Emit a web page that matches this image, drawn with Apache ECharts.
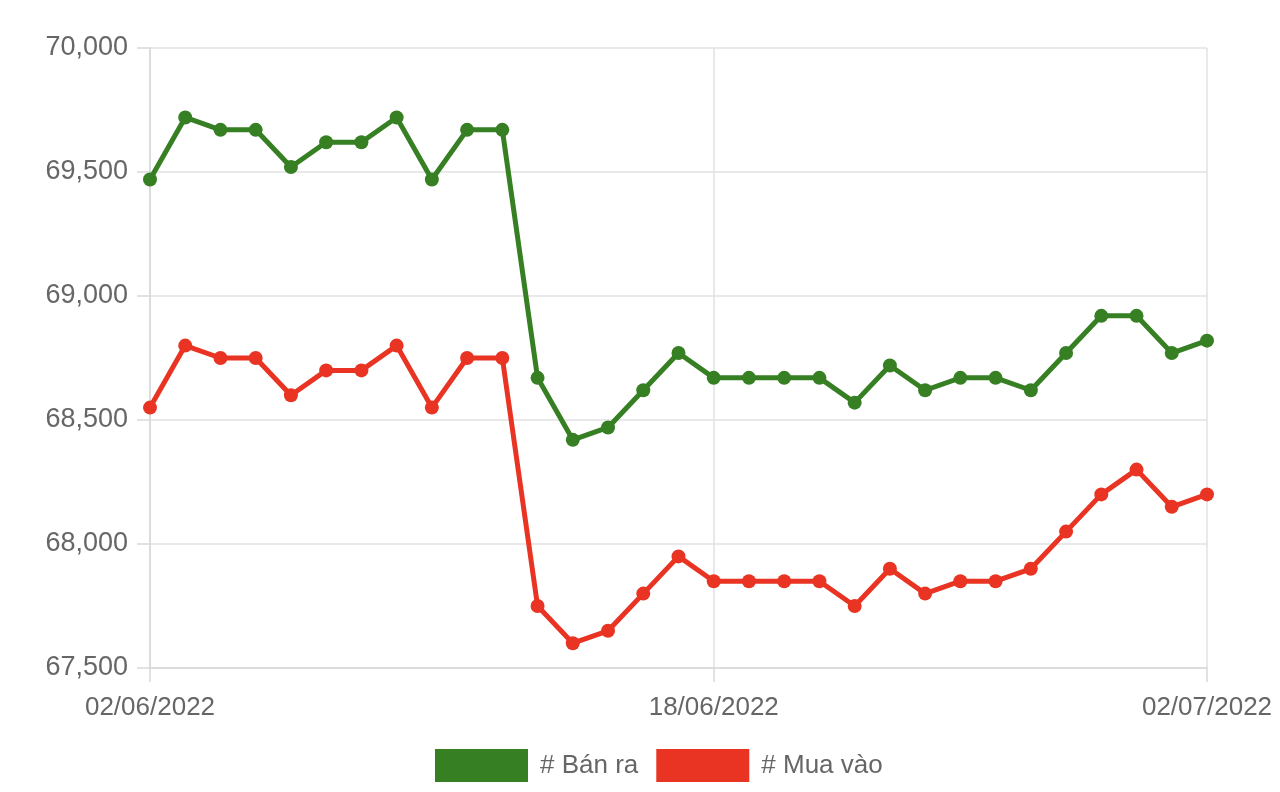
<!DOCTYPE html>
<html><head><meta charset="utf-8">
<script src="https://cdn.jsdelivr.net/npm/echarts@6/dist/echarts.min.js"></script>
<style>html,body{margin:0;padding:0;background:#fff}#c{width:1280px;height:792px}</style>
</head><body><div id="c"></div>
<script>
const dates = [];
for (let d = 2; d <= 30; d++) dates.push(String(d).padStart(2,'0') + '/06/2022');
dates.push('01/07/2022','02/07/2022');
const labelIdx = [0, 16, 30];
const banRa = [69470,69720,69670,69670,69520,69620,69620,69720,69470,69670,69670,68670,68420,68470,68620,68770,68670,68670,68670,68670,68570,68720,68620,68670,68670,68620,68770,68920,68920,68770,68820];
const muaVao = [68550,68800,68750,68750,68600,68700,68700,68800,68550,68750,68750,67750,67600,67650,67800,67950,67850,67850,67850,67850,67750,67900,67800,67850,67850,67900,68050,68200,68300,68150,68200];
const green = '#367f23', red = '#e93424';
const font = 'Liberation Sans, Arial, Helvetica, sans-serif';
const chart = echarts.init(document.getElementById('c'));
const showIdx = (i) => labelIdx.indexOf(i) >= 0;
chart.setOption({
  animation: false,
  grid: {left: 150, right: 73, top: 48, bottom: 124, containLabel: false},
  legend: {
    top: 744, left: 430, itemWidth: 93, itemHeight: 33, itemGap: 18,
    icon: 'rect',
    textStyle: {fontSize: 26, color: '#666', fontFamily: font, padding: [0, 0, 0, 7]},
    data: ['# Bán ra', '# Mua vào']
  },
  xAxis: {
    type: 'category', data: dates, boundaryGap: false,
    axisLine: {show: true, lineStyle: {color: '#d9d9d9', width: 1.5}},
    axisTick: {show: true, interval: (i) => showIdx(i), length: 14, lineStyle: {color: '#d9d9d9', width: 1.5}},
    axisLabel: {interval: (i) => showIdx(i), fontSize: 26, color: '#666', fontFamily: font, margin: 27},
    splitLine: {show: true, interval: (i) => showIdx(i), lineStyle: {color: '#e2e2e2', width: 1.5}}
  },
  yAxis: {
    type: 'value', min: 67500, max: 70000, interval: 500,
    axisLine: {show: true, lineStyle: {color: '#d9d9d9', width: 1.5}},
    axisTick: {show: true, length: 13, lineStyle: {color: '#d9d9d9', width: 1.5}},
    axisLabel: {fontSize: 27, color: '#666', fontFamily: font, margin: 22,
      formatter: (v) => v.toLocaleString('en-US')},
    splitLine: {show: true, lineStyle: {color: '#e2e2e2', width: 1.5}}
  },
  series: [
    {name: '# Bán ra', type: 'line', data: banRa, color: green, symbol: 'circle', symbolSize: 14,
     lineStyle: {width: 5, color: green}, itemStyle: {color: green}},
    {name: '# Mua vào', type: 'line', data: muaVao, color: red, symbol: 'circle', symbolSize: 14,
     lineStyle: {width: 5, color: red}, itemStyle: {color: red}}
  ]
});
</script></body></html>
